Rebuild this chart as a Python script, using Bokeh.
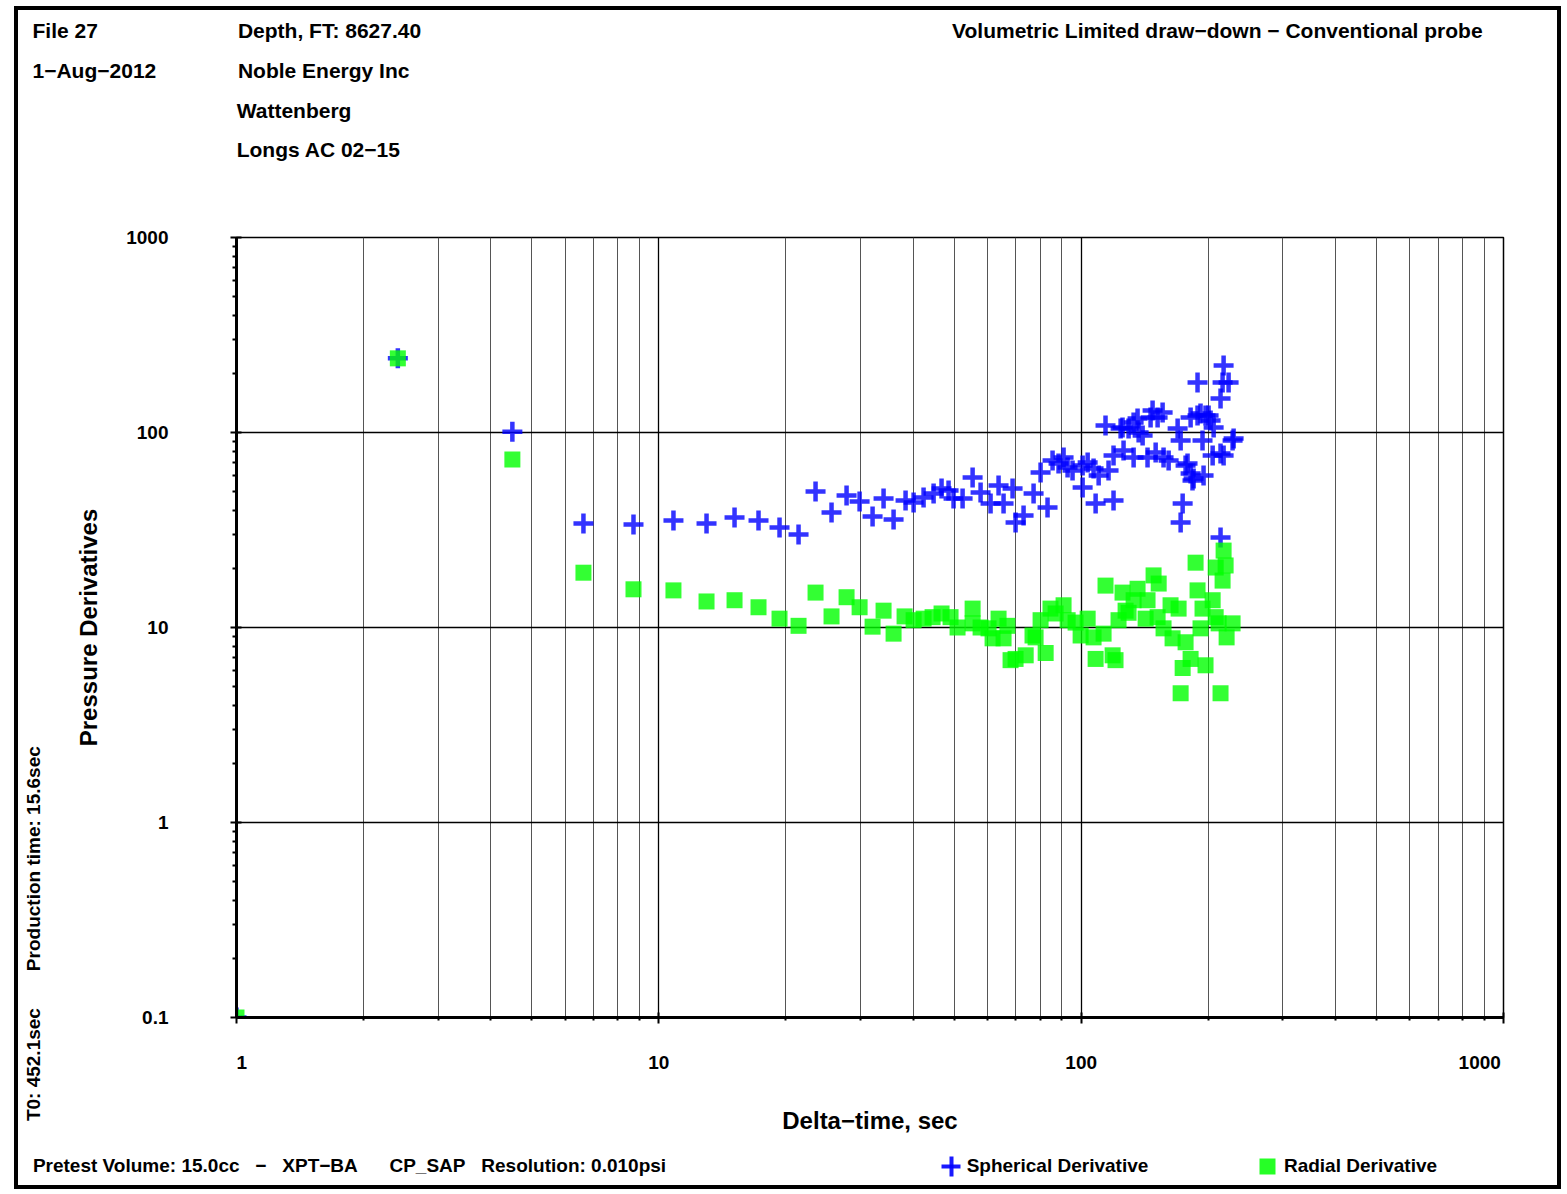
from bokeh.plotting import figure
from bokeh.models import (FixedTicker, CustomJSTickFormatter, Title, LogAxis, LinearAxis,
                          Range1d, LinearScale)
from bokeh.embed import file_html
from bokeh.resources import INLINE

# ---------------- data ----------------
sph_time = [
    1.0, 2.41, 4.50, 6.63, 8.71, 10.83, 12.97, 15.11, 17.22, 19.31,
    21.42, 23.50, 25.64, 27.83, 29.88, 32.07, 34.05, 35.96, 38.39, 40.11,
    42.35, 44.73, 46.71, 48.53, 49.87, 52.39, 55.33, 57.79, 61.02, 63.74,
    65.50, 68.80, 69.93, 73.05, 77.15, 80.15, 83.25, 85.56, 88.4, 90.85,
    92.86, 95.41, 100.8, 100.8, 103.6, 107.0, 108.2, 110.0, 114.2, 116.1,
    119.3, 119.3, 124.0, 125.3, 126.0, 129.5, 133.1, 133.1, 136.0, 136.8,
    139.8, 143.6, 146.0, 147.6, 150.1, 151.7, 155.9, 156.7, 161.1, 169.2,
    172.0, 172.0, 173.9, 176.7, 178.6, 181.6, 181.6, 183.5, 184.6, 188.6,
    188.6, 191.7, 193.8, 194.9, 197.0, 200.3, 202.5, 204.8, 205.9, 213.8,
    213.8, 213.8, 216.2, 217.4, 217.4, 223.4, 228.3, 229.6]
sph_deriv = [
    0.1, 240, 101, 34.1, 33.7, 35.4, 34.1, 36.6, 35.4, 32.6,
    30.0, 49.8, 38.9, 47.5, 44.3, 37.1, 45.9, 35.8, 44.8, 43.8,
    46.4, 48.7, 51.6, 50.4, 45.9, 45.9, 58.8, 49.2, 43.2, 53.5,
    43.2, 51.6, 34.6, 37.5, 48.7, 62.4, 41.2, 71.8, 69.3, 74.4,
    66.1, 63.9, 67.7, 52.2, 70.2, 65.4, 43.2, 60.2, 108.6, 63.9,
    44.8, 76.2, 104.9, 106.1, 80.9, 104.9, 112.5, 74.4, 118.0, 100.0,
    96.5, 74.4, 119.4, 129.7, 79.0, 119.4, 126.6, 74.4, 71.8, 104.9,
    91.0, 34.6, 43.2, 67.7, 69.3, 119.4, 61.6, 56.7, 58.1, 180.5,
    122.3, 125.1, 91.0, 60.2, 122.3, 122.3, 115.2, 76.2, 106.1, 78.0,
    149.4, 28.9, 180.5, 220.6, 76.2, 180.5, 91.0, 93.2]

rad_time = [
    1.0, 2.41, 4.50, 6.63, 8.71, 10.83, 12.97, 15.11, 17.22, 19.31,
    21.42, 23.50, 25.64, 27.83, 29.88, 32.07, 34.05, 35.96, 38.18, 40.11,
    42.35, 44.48, 46.71, 49.06, 50.97, 55.33, 55.33, 57.79, 60.35, 61.69,
    63.74, 65.50, 66.9, 68.05, 69.93, 73.9, 76.7, 78.0, 80.15, 82.4,
    84.6, 87.0, 90.85, 92.9, 97.0, 99.7, 103.6, 107.0, 108.2, 113.0,
    114.2, 118.7, 120.6, 122.6, 125.3, 127.4, 129.5, 133.1, 136.0, 142.1,
    143.6, 148.4, 151.7, 152.6, 156.7, 162.8, 164.6, 170.1, 172.0, 173.9,
    176.7, 181.6, 186.6, 188.6, 191.7, 193.8, 197.0, 204.8, 208.2, 208.2,
    211.6, 213.8, 216.2, 217.4, 219.8, 221.0, 228.3]
rad_deriv = [
    0.1, 240, 72.7, 19.1, 15.7, 15.5, 13.6, 13.8, 12.7, 11.1,
    10.2, 15.1, 11.4, 14.3, 12.7, 10.1, 12.2, 9.3, 11.4, 10.9,
    11.1, 11.3, 11.8, 11.3, 10.0, 12.5, 10.5, 10.0, 9.9, 8.8,
    11.1, 8.8, 10.2, 6.8, 6.9, 7.2, 9.1, 8.9, 10.9, 7.4,
    12.5, 11.8, 13.0, 10.9, 10.6, 9.1, 11.1, 8.9, 6.9, 9.3,
    16.4, 7.2, 6.8, 10.9, 15.1, 12.2, 11.9, 13.8, 15.8, 11.1,
    13.8, 18.5, 11.3, 16.8, 9.9, 13.0, 8.8, 12.5, 4.6, 6.2,
    8.4, 6.9, 21.5, 15.5, 9.9, 12.5, 6.4, 13.8, 20.3, 11.3,
    10.5, 4.6, 17.4, 24.8, 20.8, 8.9, 10.5]

x_major = [1, 10, 100, 1000]
y_major = [0.1, 1, 10, 100, 1000]
x_minor = [m * d for d in (1, 10, 100) for m in range(2, 10)]
y_minor = [m * d for d in (0.1, 1, 10, 100) for m in range(2, 10)]

NB = "\u00a0"
MI = "\u2212"
header_lines = [
    "File 27" + NB * 24 + "Depth, FT: 8627.40" + NB * 91
    + "Volumetric Limited draw" + MI + "down " + MI + " Conventional probe",
    "1" + MI + "Aug" + MI + "2012" + NB * 14 + "Noble Energy Inc",
    NB * 35 + "Wattenberg",
    NB * 35 + "Longs AC 02" + MI + "15",
    "",
    "",
]
footer_text = ("Pretest Volume: 15.0cc" + NB * 3 + MI + NB * 3 + "XPT" + MI + "BA"
               + NB * 6 + "CP_SAP" + NB * 3 + "Resolution: 0.010psi")
side_text = "T0: 452.1sec" + NB * 7 + "Production time: 15.6sec"
legend_names = ["Spherical Derivative", "Radial Derivative"]

FONT = "Liberation Sans"
W, H = 1547, 1183
FL, FT = 218, 227           # frame left / top on the canvas
FW, FH = 1267, 780          # frame size
PAGE_L, PAGE_R = 236, 1503  # page x of the frame edges (for the footer row)

p = figure(width=W, height=H, x_axis_type="log", y_axis_type="log",
           x_range=(1, 1000), y_range=(0.1, 1000),
           output_backend="svg", toolbar_location=None,
           min_border_left=FL, min_border_right=W - FL - FW,
           min_border_top=FT, min_border_bottom=H - FT - FH)
p.margin = (6, 0, 0, 14)
p.styles = {"border": "4px solid black"}
p.background_fill_color = "white"
p.border_fill_color = "white"
p.outline_line_color = "black"
p.outline_line_width = 1.5
p.extra_x_ranges = {"page": Range1d(PAGE_L, PAGE_R)}
p.extra_x_scales = {"page": LinearScale()}

x_fmt = ("const pad = '\\u00a0';"
         "if (tick == 1000) { return '1000' + pad.repeat(9); }"
         "if (tick == 1) { return pad.repeat(2) + '1'; }"
         "return String(tick);")
y_fmt = "return String(tick);"
for ax, ticks, minors, fmt in ((p.xaxis[0], x_major, x_minor, x_fmt),
                               (p.yaxis[0], y_major, y_minor, y_fmt)):
    ax.ticker = FixedTicker(ticks=ticks, minor_ticks=minors)
    ax.formatter = CustomJSTickFormatter(code=fmt)
    ax.axis_line_color = "black"
    ax.axis_line_width = 3
    ax.major_tick_line_color = "black"
    ax.major_tick_line_width = 2
    ax.minor_tick_line_color = "black"
    ax.minor_tick_line_width = 2
    ax.major_tick_in = 5
    ax.major_tick_out = 6
    ax.minor_tick_in = 0
    ax.minor_tick_out = 4
    ax.major_label_text_font = FONT
    ax.major_label_text_font_style = "bold"
    ax.major_label_text_font_size = "19px"
    ax.major_label_text_color = "black"
    ax.axis_label_text_font = FONT
    ax.axis_label_text_font_style = "bold"
    ax.axis_label_text_font_size = "24px"
    ax.axis_label_text_color = "black"

p.xaxis.axis_label = "Delta" + MI + "time, sec"
p.yaxis.axis_label = "Pressure Derivatives"
p.xaxis.major_label_standoff = 28
p.xaxis.axis_label_standoff = 31
p.yaxis.major_label_standoff = 62
p.yaxis.axis_label_standoff = 21
p.xaxis.minor_tick_out = 3

p.xgrid.grid_line_color = "black"
p.xgrid.grid_line_width = 1.3
p.xgrid.minor_grid_line_color = "#555555"
p.xgrid.minor_grid_line_width = 1
p.ygrid.grid_line_color = "black"
p.ygrid.grid_line_width = 1.3
p.ygrid.minor_grid_line_color = None

sph_r = p.scatter(sph_time, sph_deriv, marker="cross", size=20,
                  line_color="#0000ff", line_width=4.5, line_alpha=0.8)
rad_r = p.scatter(rad_time, rad_deriv, marker="square", size=16,
                  fill_color="#00ff00", fill_alpha=0.8, line_color=None)

# ---- header (one multi-line title above the plot) ----
header = Title(text="\n".join(header_lines), align="left", offset=-204,
               vertical_align="top", standoff=-11,
               text_font=FONT, text_font_style="bold", text_font_size="21px",
               text_color="black", text_line_height=1.73)
p.add_layout(header, "above")

# ---- rotated side texts: label of an extra, bare axis on the left ----
side_ax = LogAxis(ticker=FixedTicker(ticks=[1]), axis_label=side_text + NB * 116,
                  axis_label_standoff=29, axis_line_color=None,
                  major_tick_line_color=None, minor_tick_line_color=None,
                  major_tick_in=0, major_tick_out=0, minor_tick_in=0, minor_tick_out=0,
                  major_label_standoff=0, major_label_text_font_size="1px",
                  major_label_text_alpha=0,
                  axis_label_text_font=FONT, axis_label_text_font_style="bold",
                  axis_label_text_font_size="19px", axis_label_text_color="black")
p.add_layout(side_ax, "left")


# ---- footer row: three bare axes stacked on the same line below the x axis ----
def bare_axis(**kw):
    base = dict(x_range_name="page", axis_line_color=None,
                major_tick_line_color=None, minor_tick_line_color=None,
                major_tick_in=0, major_tick_out=0, minor_tick_in=0, minor_tick_out=0,
                major_label_standoff=0, major_label_text_font_size="1px",
                major_label_text_alpha=0, axis_label=NB,
                axis_label_text_font_size="19px", axis_label_text_alpha=0)
    base.update(kw)
    return LinearAxis(**base)


text_ticks = [349, 1057, 1360]
text_axis = bare_axis(ticker=FixedTicker(ticks=text_ticks),
                      major_label_overrides=dict(zip(text_ticks, [footer_text] + legend_names)),
                      major_label_standoff=18, major_label_text_font=FONT,
                      major_label_text_font_style="bold", major_label_text_font_size="19px",
                      major_label_text_alpha=1, major_label_text_color="black",
                      axis_label_standoff=-36)
p.add_layout(text_axis, "below")

cross_key = bare_axis(ticker=FixedTicker(ticks=[950.5]), bounds=(941, 960),
                      axis_line_color="#0000ff", axis_line_width=4, axis_line_alpha=0.9,
                      major_tick_line_color="#0000ff", major_tick_line_width=4,
                      major_tick_line_alpha=0.9, major_tick_in=10, major_tick_out=10,
                      axis_label_standoff=-35)
p.add_layout(cross_key, "below")

square_key = bare_axis(ticker=FixedTicker(ticks=[1267]), bounds=(1259, 1275),
                       axis_line_color="#00ff00", axis_line_width=16, axis_line_alpha=0.85,
                       axis_label_standoff=-22)
p.add_layout(square_key, "below")

open("out.html", "w").write(file_html(p, INLINE))
